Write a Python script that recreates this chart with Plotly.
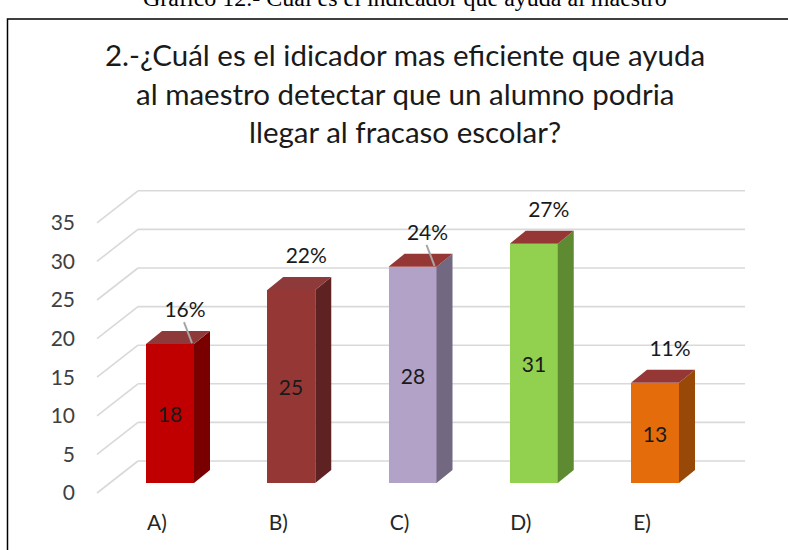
import plotly.graph_objects as go

# ---- data ----
categories = ["A)", "B)", "C)", "D)", "E)"]
values = [18, 25, 28, 31, 13]
front_colors = ["#C00000", "#953735", "#B3A2C7", "#92D050", "#E46C0A"]
side_colors = ["#7A0000", "#5E2222", "#726882", "#5E8A32", "#984807"]
top_colors = ["#8E3A3A", "#8E3A3A", "#953735", "#953735", "#953735"]
leader = [True, False, True, False, False]
y_ticks = [0, 5, 10, 15, 20, 25, 30, 35]
title_lines = ["2.-¿Cuál es el idicador mas eficiente que ayuda",
               "al maestro detectar que un alumno podria",
               "llegar al fracaso escolar?"]
caption = "Gráfico 12.- Cuál es el indicador que ayuda al maestro"

total = sum(values)
pct = [f"{round(v * 100 / total)}%" for v in values]

# ---- geometry (pixels) ----
W, H = 788, 550
L, R, T, B = 80, 0, 0, 42
PW, PH = W - L - R, H - T - B
CAT0_PX, CAT_STEP_PX = 170, 121.25   # category centre pixel, spacing
ZERO_PX, UNIT_PX = 483, 7.72          # front-plane zero and px per unit
BAR_W_PX = 48
DX_PX, DY_PX = 16, 13                 # bar depth
WALL_DX_PX, WALL_DY_PX = 41, 32       # wall depth
WALL_FRONT_PX = 97
WALL_RIGHT_PX = 745
WALL_FRONT_DROP_PX = 10

def xd(px):
    return (px - CAT0_PX) / CAT_STEP_PX

xr = [xd(L), xd(W - R)]
yr = [(ZERO_PX - (H - B)) / UNIT_PX, (ZERO_PX - T) / UNIT_PX]

def paper_x(px):
    return (px - L) / PW

def paper_y(py):
    return (H - B - py) / PH

bw = BAR_W_PX / CAT_STEP_PX
dx = DX_PX / CAT_STEP_PX
dy = DY_PX / UNIT_PX

fig = go.Figure()

# back wall gridlines (below traces)
f_drop = -WALL_FRONT_DROP_PX / UNIT_PX
w_up = (WALL_DY_PX - WALL_FRONT_DROP_PX) / UNIT_PX
grid_style = dict(color="#D9D9D9", width=1.6)
for v in y_ticks:
    fig.add_shape(type="line", xref="x", yref="y", layer="below",
                  x0=xd(WALL_FRONT_PX), y0=v + f_drop,
                  x1=xd(WALL_FRONT_PX + WALL_DX_PX), y1=v + w_up,
                  line=grid_style)
    fig.add_shape(type="line", xref="x", yref="y", layer="below",
                  x0=xd(WALL_FRONT_PX + WALL_DX_PX), y0=v + w_up,
                  x1=xd(WALL_RIGHT_PX), y1=v + w_up,
                  line=grid_style)

# bars (front faces)
xs = list(range(len(categories)))
fig.add_trace(go.Bar(x=xs, y=values, width=bw,
                     marker=dict(color=front_colors, line=dict(width=0)),
                     text=[str(v) for v in values], textposition="inside",
                     insidetextanchor="middle", textangle=0,
                     constraintext="none",
                     textfont=dict(family="Lato", size=21, color="#1a1a1a"),
                     hoverinfo="skip", showlegend=False))

# side and top faces
for i, v in enumerate(values):
    xr_ = i + bw / 2
    xl_ = i - bw / 2
    fig.add_trace(go.Scatter(
        x=[xr_, xr_ + dx, xr_ + dx, xr_, xr_],
        y=[0, dy, v + dy, v, 0],
        mode="lines", fill="toself", fillcolor=side_colors[i],
        line=dict(width=0, color=side_colors[i]),
        hoverinfo="skip", showlegend=False))
    fig.add_trace(go.Scatter(
        x=[xl_, xl_ + dx, xr_ + dx, xr_, xl_],
        y=[v, v + dy, v + dy, v, v],
        mode="lines", fill="toself", fillcolor=top_colors[i],
        line=dict(width=0, color=top_colors[i]),
        hoverinfo="skip", showlegend=False))

# percentage labels
lab_x = [i + 15 / CAT_STEP_PX for i in xs]
lab_y = [v + dy + 19 / UNIT_PX for v in values]
for i, v in enumerate(values):
    if leader[i]:
        fig.add_trace(go.Scatter(
            x=[lab_x[i] - 1 / CAT_STEP_PX, lab_x[i] + 7 / CAT_STEP_PX],
            y=[lab_y[i] - 10 / UNIT_PX, v + 1 / UNIT_PX],
            mode="lines", line=dict(color="#A6A6A6", width=2),
            hoverinfo="skip", showlegend=False))
fig.add_trace(go.Scatter(x=lab_x, y=lab_y, mode="text", text=pct,
                         textposition="middle center",
                         textfont=dict(family="Lato", size=21, color="#1a1a1a"),
                         hoverinfo="skip", showlegend=False))

# title
title_y_px = [54, 93, 131]
for line, ypx in zip(title_lines, title_y_px):
    fig.add_annotation(text=line, xref="paper", yref="paper",
                       x=paper_x(405), y=paper_y(ypx), xanchor="center",
                       yanchor="middle", showarrow=False,
                       font=dict(family="Lato", size=29.5, color="#1a1a1a"))

# caption, cut at the top (as in the source image)
fig.add_annotation(text=caption, xref="paper", yref="paper",
                   x=paper_x(405), y=paper_y(-2), xanchor="center",
                   yanchor="middle", showarrow=False,
                   font=dict(family="Liberation Serif", size=24, color="#000000"))

# border
fig.add_shape(type="rect", xref="paper", yref="paper",
              x0=paper_x(7.5), y0=paper_y(570), x1=paper_x(805), y1=paper_y(19),
              line=dict(color="#000000", width=1.5), layer="above")

fig.update_layout(
    width=W, height=H, autosize=False,
    margin=dict(l=L, r=R, t=T, b=B),
    paper_bgcolor="white", plot_bgcolor="white",
    bargap=0,
    xaxis=dict(range=xr, tickvals=[i - 13 / CAT_STEP_PX for i in xs],
               ticktext=categories, showgrid=False, zeroline=False,
               showline=False, ticks="", fixedrange=True,
               tickfont=dict(family="Lato", size=21, color="#262626")),
    yaxis=dict(range=yr, tickvals=[v + f_drop for v in y_ticks],
               ticktext=[str(v) for v in y_ticks], showgrid=False,
               zeroline=False, showline=False, ticks="", fixedrange=True,
               ticklabelstandoff=4,
               tickfont=dict(family="Lato", size=21, color="#404040")),
)

fig.write_html("out.html", config={"displayModeBar": False},
               post_script="document.body.style.margin='0';")
